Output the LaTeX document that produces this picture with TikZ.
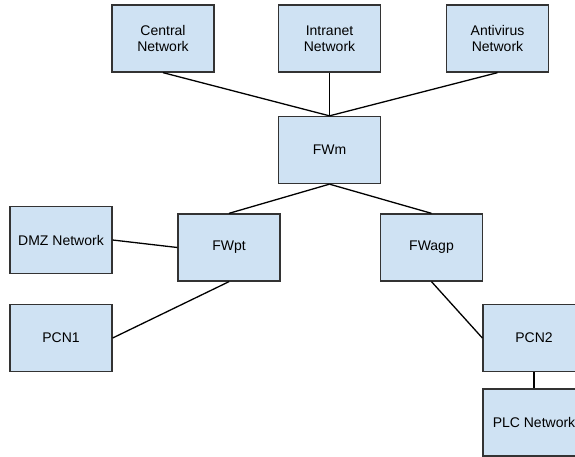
\documentclass[tikz,border=0pt]{standalone}
\usepackage{fontspec}
\setmainfont{Liberation Sans}
\begin{document}
\begin{tikzpicture}[x=1pt,y=-1pt,
  netbox/.style={draw=black!80, line width=1.3pt, fill=boxblue,
    minimum width=102pt, minimum height=67pt, inner sep=0pt,
    align=center, font=\fontsize{14}{16}\selectfont},
  link/.style={draw=black, line width=1.3pt}]
\definecolor{boxblue}{HTML}{CFE2F3}
\useasboundingbox (0,0) rectangle (575,457);
\clip (0,0) rectangle (575,457);
% top row of networks
\node[netbox] (central)   at (163,38.5)   {Central\\Network};
\node[netbox] (intranet)  at (329.5,38.5) {Intranet\\Network};
\node[netbox] (antivirus) at (497.5,38.5) {Antivirus\\Network};
% main firewall
\node[netbox] (fwm) at (329.5,150) {FWm};
% second tier
\node[netbox] (dmz)   at (61,240)     {DMZ Network};
\node[netbox] (fwpt)  at (229,247.5)  {FWpt};
\node[netbox] (fwagp) at (431.5,247.5){FWagp};
% process control networks
\node[netbox] (pcn1) at (61,338)    {PCN1};
\node[netbox] (pcn2) at (534,338)   {PCN2};
\node[netbox] (plc)  at (534,422.5) {PLC Network};
% connections
\draw[link] (central.south)   -- (fwm.north);
\draw[link] (intranet.south)  -- (fwm.north);
\draw[link] (antivirus.south) -- (fwm.north);
\draw[link] (fwm.south) -- (fwpt.north);
\draw[link] (fwm.south) -- (fwagp.north);
\draw[link] (dmz.east)  -- (fwpt.west);
\draw[link] (pcn1.east) -- (fwpt.south);
\draw[link] (fwagp.south) -- (pcn2.west);
\draw[link] (pcn2.south) -- (plc.north);
\end{tikzpicture}
\end{document}
